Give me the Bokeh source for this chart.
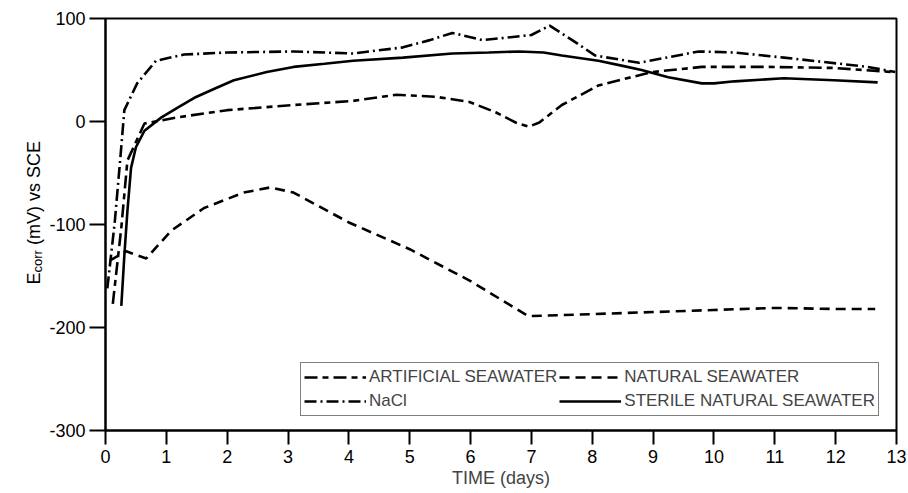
import math
from bokeh.plotting import figure
from bokeh.layouts import row
from bokeh.models import Legend, LegendItem, FixedTicker, Range1d
from bokeh.core.properties import value
from bokeh.embed import file_html
from bokeh.resources import INLINE

# ---------------- data ----------------
nacl_x = [0.03, 0.15, 0.23, 0.31, 0.52, 0.83, 1.29, 2.0, 3.09, 4.07, 4.89, 5.33, 5.7, 6.2, 7.0, 7.3, 7.67, 8.05, 8.77, 9.75, 10.34, 11.15, 12.08, 12.53, 12.98]
nacl_y = [-162, -99, -45, 11, 37, 59, 65, 67, 68, 66, 72, 79, 86, 79, 84, 93, 79, 64, 57, 68, 67, 62, 56, 53, 48]

sterile_x = [0.26, 0.31, 0.36, 0.42, 0.5, 0.64, 0.92, 1.2, 1.46, 1.8, 2.11, 2.65, 3.09, 3.6, 4.07, 4.89, 5.7, 6.3, 6.8, 7.2, 7.5, 8.1, 8.5, 8.81, 9.25, 9.8, 10.0, 10.34, 11.15, 11.97, 12.69]
sterile_y = [-179, -130, -87, -45, -25, -9, 4, 14, 23, 32, 40, 48, 53, 56, 59, 62, 66, 67, 68, 67, 64, 59, 54, 50, 43, 37, 37, 39, 42, 40, 38]

artificial_x = [0.12, 0.26, 0.36, 0.64, 1.18, 2.0, 3.09, 4.07, 4.78, 5.43, 5.98, 6.41, 6.74, 6.96, 7.13, 7.5, 8.1, 8.98, 9.8, 10.89, 11.97, 12.95]
artificial_y = [-177, -103, -38, -2, 4, 11, 16, 20, 26, 24, 19, 9, -1, -5, -1, 16, 35, 48, 53, 53, 52, 48]

natural_x = [0.07, 0.34, 0.67, 1.08, 1.62, 2.27, 2.71, 3.09, 4.0, 5.0, 6.0, 6.95, 8.0, 9.0, 10.0, 11.0, 12.0, 12.65]
natural_y = [-135, -126, -133, -106, -84, -69, -64, -69, -98, -124, -155, -189, -187, -185, -183, -181, -182, -182]

x_ticks = list(range(0, 14))
x_tick_labels = [str(t) for t in x_ticks]
y_ticks = [-300, -200, -100, 0, 100]
y_tick_labels = ["-300", "-200", "-100", "0", "100"]

series_names = ["ARTIFICIAL SEAWATER", "NATURAL SEAWATER", "NaCl", "STERILE NATURAL SEAWATER"]
y_title_parts = ["E", "corr", "(mV) vs SCE"]

# ---------------- styling ----------------
FONT = "Liberation Sans"
FS = "18px"
H = 492
LABEL_W = 46
MAIN_W = 860
FRAME_TOP, FRAME_BOTTOM = 18, 430   # screen rows of the plotting frame

# ---------------- main figure ----------------
p = figure(width=MAIN_W, height=H, output_backend="svg", toolbar_location=None,
           x_range=Range1d(0, 13), y_range=Range1d(-300, 100),
           min_border_left=56, min_border_top=FRAME_TOP, min_border_right=10,
           min_border_bottom=H - FRAME_BOTTOM)
p.background_fill_color = "white"
p.border_fill_color = "white"
p.grid.visible = False
p.outline_line_color = "black"
p.outline_line_width = 2

for ax in (p.xaxis[0], p.yaxis[0]):
    ax.axis_line_width = 2
    ax.major_tick_line_width = 2
    ax.major_tick_in = 0
    ax.minor_tick_line_color = None
    ax.major_label_text_font = FONT
    ax.major_label_text_font_size = FS
    ax.major_label_text_color = "black"
    ax.axis_label_text_font = FONT
    ax.axis_label_text_font_size = FS
    ax.axis_label_text_font_style = "normal"

p.xaxis.ticker = FixedTicker(ticks=x_ticks)
p.xaxis.major_label_overrides = {t: l for t, l in zip(x_ticks, x_tick_labels)}
p.xaxis.major_tick_out = 14
p.xaxis.major_label_standoff = 5
p.xaxis.axis_label = "TIME (days)"
p.xaxis.axis_label_standoff = 2

p.yaxis.ticker = FixedTicker(ticks=y_ticks)
p.yaxis.major_label_overrides = {t: l for t, l in zip(y_ticks, y_tick_labels)}
p.yaxis.major_tick_out = 16
p.yaxis.major_label_standoff = 4

LW = 2.6
r_art = p.line(artificial_x, artificial_y, line_color="black", line_width=LW, line_dash="13 5 6 5")
r_nat = p.line(natural_x, natural_y, line_color="black", line_width=LW, line_dash="10 6")
r_nacl = p.line(nacl_x, nacl_y, line_color="black", line_width=LW, line_dash="12 4 2 4")
r_ster = p.line(sterile_x, sterile_y, line_color="black", line_width=LW)

legend = Legend(items=[LegendItem(label=series_names[0], renderers=[r_art]),
                       LegendItem(label=series_names[2], renderers=[r_nacl]),
                       LegendItem(label=series_names[1], renderers=[r_nat]),
                       LegendItem(label=series_names[3], renderers=[r_ster])],
                location=(195, 14), ncols=2)
legend.border_line_color = "black"
legend.border_line_width = 1.5
legend.background_fill_alpha = 1
legend.label_text_font = FONT
legend.label_text_font_size = "17px"
legend.glyph_width = 62
legend.glyph_height = 22
legend.label_height = 22
legend.label_standoff = 3
legend.spacing = 2
legend.padding = 3
legend.margin = 0
p.add_layout(legend)

# ---------------- y-axis title (separate narrow panel, with subscript) ----------------
# the row layout aligns this panel's frame with the main frame; map data y = screen row
lab = figure(width=LABEL_W, height=H, output_backend="svg", toolbar_location=None,
             x_range=Range1d(0, LABEL_W), y_range=Range1d(H - FRAME_BOTTOM, H - FRAME_TOP),
             x_axis_location=None, y_axis_location=None,
             min_border=0, min_border_left=0, min_border_right=0,
             min_border_top=FRAME_TOP, min_border_bottom=H - FRAME_BOTTOM)
lab.grid.visible = False
lab.outline_line_color = None
lab.background_fill_color = "white"
lab.border_fill_color = "white"

base_y = H - 284           # bottom end of the rotated title
w_E = 0.667 * 18
w_corr = 1.722 * 13
w_space = 0.278 * 18
lab.text(x=[33], y=[base_y], text=[y_title_parts[0]], angle=math.pi / 2,
         text_font=value(FONT), text_font_size="18px", text_align="left", text_baseline="alphabetic",
         text_color="black")
lab.text(x=[36.5], y=[base_y + w_E], text=[y_title_parts[1]], angle=math.pi / 2,
         text_font=value(FONT), text_font_size="13px", text_align="left", text_baseline="alphabetic",
         text_color="black")
lab.text(x=[33], y=[base_y + w_E + w_corr + w_space], text=[y_title_parts[2]], angle=math.pi / 2,
         text_font=value(FONT), text_font_size="18px", text_align="left", text_baseline="alphabetic",
         text_color="black")

layout = row(lab, p, spacing=0)
open("out.html", "w").write(file_html(layout, INLINE))
